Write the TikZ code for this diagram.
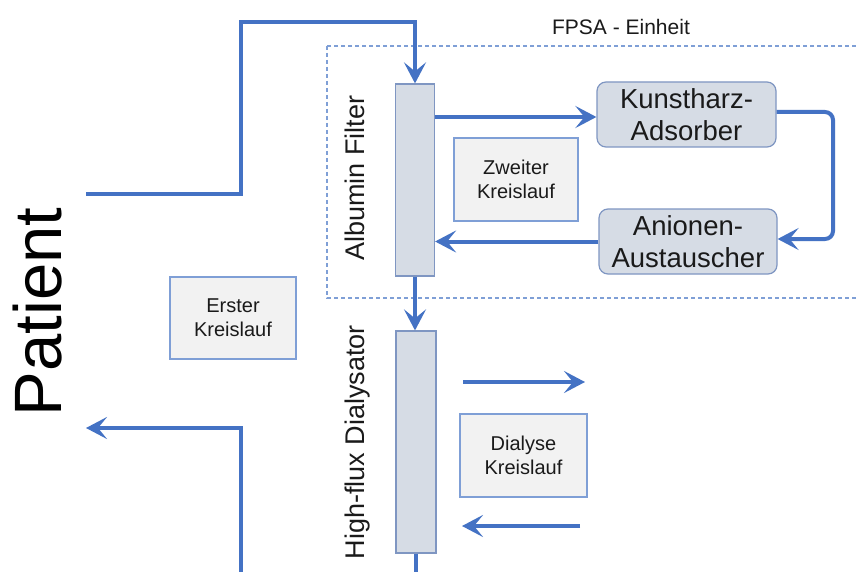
\documentclass[tikz,border=0pt]{standalone}
\usepackage{fontspec}
\setmainfont{Liberation Sans}
\usetikzlibrary{arrows.meta}
\definecolor{flowblue}{HTML}{4472C4}
\definecolor{unitfill}{HTML}{D6DCE5}
\definecolor{unitdraw}{HTML}{7F96C2}
\definecolor{notefill}{HTML}{F2F2F2}
\definecolor{notedraw}{HTML}{7F9FD6}
\definecolor{dashcol}{HTML}{7F9FD6}
\definecolor{txt}{HTML}{1A1A1A}
\tikzset{
  flow/.style={draw=flowblue, line width=4pt, -{Stealth[length=21pt,width=22pt,inset=9pt]}},
  flowline/.style={draw=flowblue, line width=4pt},
  column/.style={draw=unitdraw, fill=unitfill, line width=1.2pt, inner sep=0pt},
  unitbox/.style={draw=unitdraw, fill=unitfill, line width=1.2pt, rounded corners=9pt, inner sep=0pt, align=center, text=txt, font=\fontsize{27.5}{32}\selectfont},
  notebox/.style={draw=notedraw, fill=notefill, line width=1.2pt, inner sep=0pt, align=center, text=txt, font=\fontsize{20}{24}\selectfont},
  sidelabel/.style={rotate=90, anchor=base, inner sep=0pt, text=txt, font=\fontsize{27}{32}\selectfont}
}
\begin{document}
\begin{tikzpicture}[x=1pt,y=-1pt]
\useasboundingbox (0,0) rectangle (856,572);
\fill[white] (0,0) rectangle (856,572);
% FPSA unit (dashed)
\draw[dashcol, line width=1.2pt, dash pattern=on 4pt off 3pt] (327,46) rectangle (875,298);
\node[text=txt, font=\fontsize{21}{25}\selectfont, inner sep=0pt] (fpsa) at (621,27) {FPSA - Einheit};

% Columns
\node[column, minimum width=39pt, minimum height=192pt] (albumin) at (415,180) {};
\node[column, minimum width=40pt, minimum height=222pt] (dialysator) at (416,442) {};
\node[sidelabel] (albuminlabel) at (364,178) {Albumin Filter};
\node[sidelabel] (dialysatorlabel) at (364,442) {High-flux Dialysator};

% Units
\node[unitbox, minimum width=179pt, minimum height=65pt] (kunst) at (686.5,114.5) {Kunstharz-\\Adsorber};
\node[unitbox, minimum width=178pt, minimum height=65pt] (anion) at (688,241.5) {Anionen-\\Austauscher};

% Note boxes
\node[notebox, minimum width=124pt, minimum height=83pt] (zweiter) at (516,179.5) {Zweiter\\Kreislauf};
\node[notebox, minimum width=126pt, minimum height=82pt] (erster) at (233,318) {Erster\\Kreislauf};
\node[notebox, minimum width=127pt, minimum height=83pt] (dialyse) at (523.5,455.5) {Dialyse\\Kreislauf};

% Patient
\node[rotate=90, inner sep=0pt, text=black, font=\fontsize{67}{80}\selectfont] (patient) at (38,312) {Patient};

% Coordinates
\coordinate (pout) at (86,194);
\coordinate (pin) at (86,428);
\coordinate (c1) at (241,194);
\coordinate (c2) at (241,22);
\coordinate (c3) at (241,428);
\coordinate (c4) at (241,574);
\coordinate (dend) at (416,574);
\coordinate (loopa) at (833,112);
\coordinate (loopb) at (833,239);
\coordinate (d1s) at (463,382);
\coordinate (d1e) at (585,382);
\coordinate (d2s) at (580,526);
\coordinate (d2e) at (462,526);

% Flows
\draw[flow] (pout) -- (c1) -- (c2) -| (albumin.north);
\draw[flow] ([yshift=-2.5pt]kunst.west -| albumin.east) -- ([yshift=-2.5pt]kunst.west);
\draw[flow, rounded corners=8pt] ([yshift=2.5pt]kunst.east) -- (loopa) -- (loopb) -- ([yshift=2.5pt]anion.east);
\draw[flow] (anion.west) -- (anion.west -| albumin.east);
\draw[flow] (albumin.south) -- (albumin.south |- dialysator.north);
\draw[flowline] (dialysator.south) -- (dend);
\draw[flow] (c4) -- (c3) -- (pin);
\draw[flow] (d1s) -- (d1e);
\draw[flow] (d2s) -- (d2e);
\end{tikzpicture}
\end{document}
